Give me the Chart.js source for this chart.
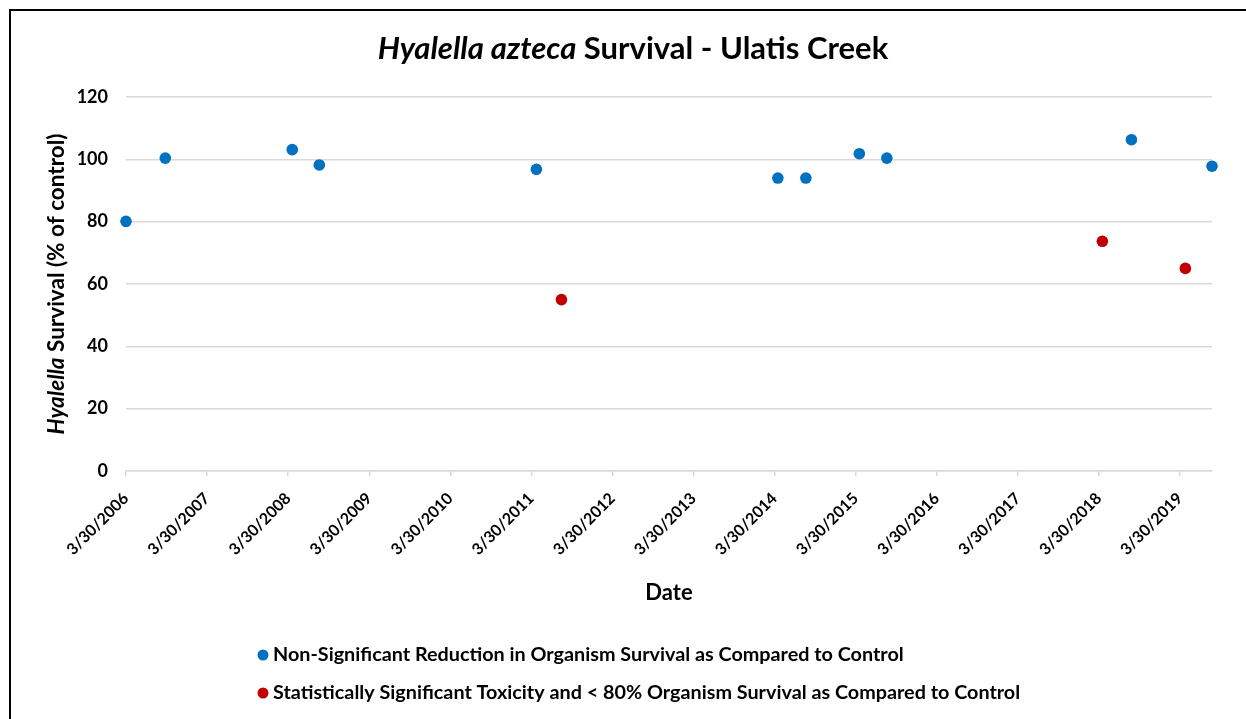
<!DOCTYPE html>
<html>
<head>
<meta charset="utf-8">
<script src="https://cdn.jsdelivr.net/npm/chart.js@4/dist/chart.umd.min.js"></script>
<style>
  html, body { margin: 0; padding: 0; background: #fff; overflow: hidden; }
  #frame { position: absolute; left: 9px; top: 9px; width: 1300px; height: 800px; border-left: 2px solid #000; border-top: 2px solid #000; }
  #myChart { position: absolute; left: 0; top: 0; }
</style>
</head>
<body>
<div id="frame"></div>
<canvas id="myChart" width="1246" height="719"></canvas>
<script>
// data
const xTickLabels = ['3/30/2006', '3/30/2007', '3/30/2008', '3/30/2009', '3/30/2010', '3/30/2011', '3/30/2012',
  '3/30/2013', '3/30/2014', '3/30/2015', '3/30/2016', '3/30/2017', '3/30/2018', '3/30/2019'];
const yTicks = [0, 20, 40, 60, 80, 100, 120];

const okDates = ['2006-03-30', '2006-09-23', '2008-04-17', '2008-08-17', '2011-04-22', '2014-04-14',
  '2014-08-18', '2015-04-16', '2015-08-18', '2018-08-24', '2019-08-22'];
const okValues = [80.1, 100.4, 103.1, 98.2, 96.8, 94.0, 94.0, 101.8, 100.4, 106.3, 97.8];

const toxDates = ['2011-08-13', '2018-04-15', '2019-04-24'];
const toxValues = [55.0, 73.7, 65.0];

const xMinDate = '2006-03-30';
const xMaxDate = '2019-08-22';

const labelOk = 'Non-Significant Reduction in Organism Survival as Compared to Control';
const labelTox = 'Statistically Significant Toxicity and < 80% Organism Survival as Compared to Control';

const FONT = 'Lato, "Open Sans", sans-serif';

function isoMs(s) {
  const [y, m, d] = s.split('-').map(Number);
  return Date.UTC(y, m - 1, d);
}
function mdyMs(s) {
  const [m, d, y] = s.split('/').map(Number);
  return Date.UTC(y, m - 1, d);
}
const tickLookup = {};
xTickLabels.forEach((l) => { tickLookup[mdyMs(l)] = l; });

const toPoints = (dates, vals) => dates.map((d, i) => ({ x: isoMs(d), y: vals[i] }));

// draws the mixed italic/bold text pieces, the axis titles and the legend
const extras = {
  id: 'extras',
  afterDraw(chart) {
    const ctx = chart.ctx;
    const area = chart.chartArea;
    ctx.save();
    ctx.fillStyle = '#000';
    ctx.textBaseline = 'middle';

    const drawParts = (parts, cx, cy) => {
      let total = 0;
      parts.forEach((p) => { ctx.font = p.font; p.w = ctx.measureText(p.text).width; total += p.w; });
      let x = cx - total / 2;
      ctx.textAlign = 'left';
      parts.forEach((p) => { ctx.font = p.font; ctx.fillText(p.text, x, cy); x += p.w; });
    };

    // title
    drawParts([
      { text: 'Hyalella azteca', font: 'italic bold 31px ' + FONT },
      { text: ' Survival - Ulatis Creek', font: 'bold 31px ' + FONT },
    ], 633, 49);

    // y axis title
    ctx.save();
    ctx.translate(57, (area.top + area.bottom) / 2);
    ctx.rotate(-Math.PI / 2);
    drawParts([
      { text: 'Hyalella', font: 'italic bold 22.5px ' + FONT },
      { text: ' Survival (% of control)', font: 'bold 22.5px ' + FONT },
    ], 0, 0);
    ctx.restore();

    // x axis title
    ctx.font = 'bold 22px ' + FONT;
    ctx.textAlign = 'center';
    ctx.fillText('Date', (area.left + area.right) / 2, 593);

    // legend
    const rows = [655, 693];
    chart.data.datasets.forEach((ds, i) => {
      ctx.beginPath();
      ctx.fillStyle = ds.backgroundColor;
      ctx.arc(263, rows[i], 5.5, 0, Math.PI * 2);
      ctx.fill();
      ctx.fillStyle = '#000';
      ctx.font = 'bold 19.8px ' + FONT;
      ctx.textAlign = 'left';
      ctx.fillText(ds.label, 273, rows[i]);
    });
    ctx.restore();
  },
};

new Chart(document.getElementById('myChart'), {
  type: 'scatter',
  data: {
    datasets: [
      {
        label: labelOk,
        data: toPoints(okDates, okValues),
        backgroundColor: '#0070C0',
        borderWidth: 0,
        pointRadius: 5.8,
        clip: false,
      },
      {
        label: labelTox,
        data: toPoints(toxDates, toxValues),
        backgroundColor: '#C00000',
        borderWidth: 0,
        pointRadius: 5.8,
        clip: false,
      },
    ],
  },
  options: {
    responsive: false,
    animation: false,
    devicePixelRatio: 1,
    layout: { padding: { top: 97, right: 34, left: 0, bottom: 0 } },
    plugins: {
      legend: { display: false },
      title: { display: false },
      tooltip: { enabled: false },
    },
    scales: {
      x: {
        type: 'linear',
        min: isoMs(xMinDate),
        max: isoMs(xMaxDate),
        afterBuildTicks: (scale) => {
          scale.ticks = xTickLabels.map((l) => ({ value: mdyMs(l) }));
        },
        afterFit: (scale) => { scale.height = 248; },
        border: { display: true, color: '#d9d9d9', width: 1.5 },
        grid: { drawOnChartArea: false, drawTicks: true, tickLength: 5, color: '#d9d9d9', lineWidth: 1.5 },
        ticks: {
          autoSkip: false,
          maxRotation: 45,
          minRotation: 45,
          padding: 13,
          color: '#000',
          font: { family: FONT, weight: 'bold', size: 16 },
          callback: (v) => tickLookup[v] || '',
        },
      },
      y: {
        min: 0,
        max: 120,
        afterBuildTicks: (scale) => {
          scale.ticks = yTicks.map((v) => ({ value: v }));
        },
        afterFit: (scale) => { scale.width = 126; },
        border: { display: false },
        grid: { color: '#d9d9d9', lineWidth: 1.5, drawTicks: false },
        ticks: {
          padding: 18,
          color: '#000',
          font: { family: FONT, weight: 'bold', size: 18 },
        },
      },
    },
  },
  plugins: [extras],
});
</script>
</body>
</html>
